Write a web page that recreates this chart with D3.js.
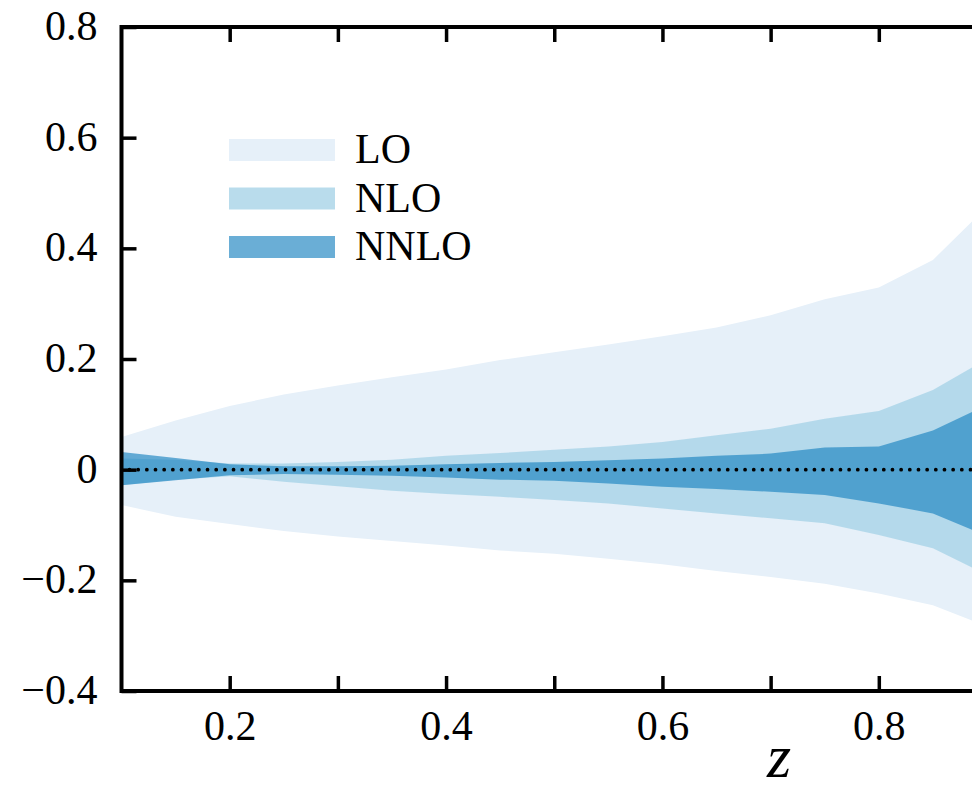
<!DOCTYPE html>
<html>
<head>
<meta charset="utf-8">
<script src="https://cdn.jsdelivr.net/npm/d3@7"></script>
<style>
  body { margin: 0; background: #fff; }
  svg { display: block; }
</style>
</head>
<body>
<svg id="chart" width="972" height="792"></svg>
<script>
// z grid of the scale-variation bands
const zs = [0.1, 0.15, 0.2, 0.25, 0.3, 0.35, 0.4, 0.45, 0.5, 0.55, 0.6, 0.65, 0.7, 0.75, 0.8, 0.85, 0.9];

const loUp   = [0.059, 0.089, 0.115, 0.136, 0.152, 0.167, 0.181, 0.198, 0.212, 0.226, 0.241, 0.257, 0.279, 0.308, 0.329, 0.379, 0.475];
const loDown = [-0.064, -0.085, -0.098, -0.111, -0.121, -0.129, -0.137, -0.146, -0.152, -0.161, -0.171, -0.183, -0.194, -0.206, -0.224, -0.245, -0.283];

const nloUp   = [0.020, 0.018, 0.011, 0.011, 0.014, 0.018, 0.025, 0.030, 0.036, 0.042, 0.050, 0.062, 0.074, 0.092, 0.106, 0.144, 0.200];
const nloDown = [-0.028, -0.018, -0.012, -0.022, -0.030, -0.038, -0.044, -0.049, -0.055, -0.061, -0.070, -0.079, -0.088, -0.097, -0.118, -0.142, -0.190];

const nnloUp   = [0.032, 0.021, 0.010, 0.006, 0.006, 0.007, 0.010, 0.012, 0.014, 0.017, 0.020, 0.025, 0.029, 0.040, 0.042, 0.071, 0.117];
const nnloDown = [-0.028, -0.019, -0.010, -0.008, -0.009, -0.011, -0.014, -0.018, -0.020, -0.025, -0.031, -0.035, -0.040, -0.046, -0.061, -0.079, -0.120];

const orders = ["LO", "NLO", "NNLO"];
const yTicks = [-0.4, -0.2, 0, 0.2, 0.4, 0.6, 0.8];
const xTicks = [0.2, 0.3, 0.4, 0.5, 0.6, 0.7, 0.8];
const xLabels = [0.2, 0.4, 0.6, 0.8];

const serif = '"Liberation Serif", "DejaVu Serif", serif';

const svg = d3.select("#chart")
  .attr("font-family", serif);

const x = d3.scaleLinear().domain([0.1, 0.9]).range([121.5, 987]);
const y = d3.scaleLinear().domain([-0.4, 0.8]).range([691, 27]);

const bands = [
  { name: "LO",   up: loUp,   down: loDown,   fill: "#e6f0f9", op: 1 },
  { name: "NLO",  up: nloUp,  down: nloDown,  fill: "rgb(168,211,231)", op: 0.8 },
  { name: "NNLO", up: nnloUp, down: nnloDown, fill: "rgb(26,130,192)", op: 0.65 }
];

const area = d3.area()
  .x(d => x(d.z))
  .y0(d => y(d.lo))
  .y1(d => y(d.hi));

svg.append("g").selectAll("path")
  .data(bands)
  .join("path")
    .attr("d", b => area(zs.map((z, i) => ({ z: z, lo: b.down[i], hi: b.up[i] }))))
    .attr("fill", b => b.fill)
    .attr("fill-opacity", b => b.op);

// reference line at zero
svg.append("line")
  .attr("x1", x(0.1) + 8).attr("x2", x(0.9))
  .attr("y1", y(0)).attr("y2", y(0))
  .attr("stroke", "#000")
  .attr("stroke-width", 3.8)
  .attr("stroke-linecap", "round")
  .attr("stroke-dasharray", "0 8.67");

// axes, ticks pointing inwards on all four sides
const fmt = d => d === 0 ? "0" : d3.format(".1f")(d);

const axLeft = svg.append("g").attr("transform", `translate(${x(0.1)},0)`)
  .call(d3.axisLeft(y).tickValues(yTicks).tickSize(-15).tickPadding(24).tickFormat(fmt));
const axRight = svg.append("g").attr("transform", `translate(${x(0.9)},0)`)
  .call(d3.axisRight(y).tickValues(yTicks).tickSize(-15).tickFormat(""));
const axBottom = svg.append("g").attr("transform", `translate(0,${y(-0.4)})`)
  .call(d3.axisBottom(x).tickValues(xTicks).tickSize(-15).tickPadding(26)
    .tickFormat(d => xLabels.some(v => Math.abs(v - d) < 1e-9) ? d3.format(".1f")(d) : ""));
const axTop = svg.append("g").attr("transform", `translate(0,${y(0.8)})`)
  .call(d3.axisTop(x).tickValues(xTicks).tickSize(-15).tickFormat(""));

[axLeft, axRight, axBottom, axTop].forEach(g => {
  g.attr("font-family", serif).attr("font-size", 42);
  g.select(".domain").remove();
  g.selectAll(".tick line").attr("stroke", "#000").attr("stroke-width", 3.5);
  g.selectAll("text").attr("fill", "#000");
});
axLeft.selectAll("text").attr("dy", "0.3em");
axBottom.selectAll("text").attr("dy", "0.55em");

svg.append("rect")
  .attr("x", x(0.1)).attr("y", y(0.8))
  .attr("width", x(0.9) - x(0.1)).attr("height", y(-0.4) - y(0.8))
  .attr("fill", "none").attr("stroke", "#000").attr("stroke-width", 4);

// legend
const legend = svg.append("g").attr("transform", "translate(229,139)");
const rows = legend.selectAll("g").data(bands).join("g")
  .attr("transform", (d, i) => `translate(0,${i * 48.5})`);
rows.append("rect")
  .attr("width", 106).attr("height", 22)
  .attr("fill", d => d.fill).attr("fill-opacity", d => d.op);
rows.append("text")
  .attr("x", 126).attr("y", 24)
  .attr("font-size", 42)
  .text((d, i) => orders[i]);

// axis title
svg.append("text")
  .attr("x", 779).attr("y", 777)
  .attr("text-anchor", "middle")
  .attr("font-size", 62)
  .attr("font-style", "italic")
  .text("z");
</script>
</body>
</html>
